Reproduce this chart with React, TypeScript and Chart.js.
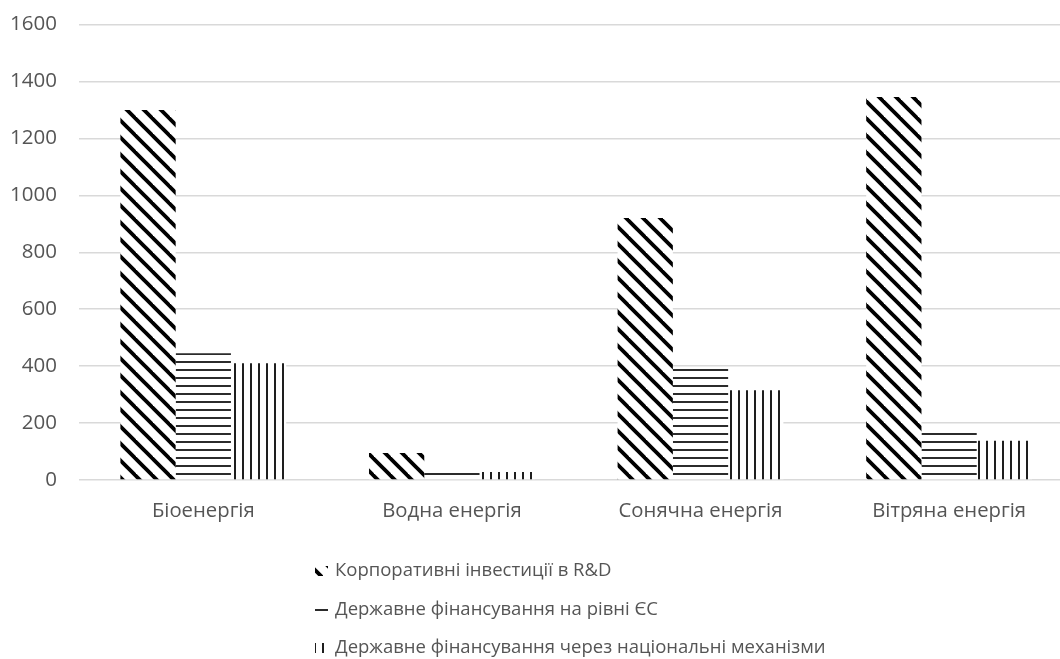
import React, { useEffect, useRef } from "react";
import { Chart, registerables } from "chart.js";

Chart.register(...registerables);

// Categories (x axis)
const categories = ["Біоенергія", "Водна енергія", "Сонячна енергія", "Вітряна енергія"];

// Series names
const seriesNames = [
  "Корпоративні інвестиції в R&D",
  "Державне фінансування на рівні ЄС",
  "Державне фінансування через національні механізми",
];

// Series values
const corporateRnD = [1300, 95, 920, 1345];
const euFunding = [445, 32, 397, 167];
const nationalFunding = [410, 28, 315, 138];

// Value axis
const yMax = 1600;
const yStep = 200;

const FONT = "'Open Sans', 'Noto Sans', sans-serif";
const TEXT_COLOR = "#555555";
const GRID_COLOR = "#d9d9d9";

function makeTile(size: number, draw: (c: CanvasRenderingContext2D) => void): CanvasPattern {
  const tile = document.createElement("canvas");
  tile.width = size;
  tile.height = size;
  const c = tile.getContext("2d")!;
  c.fillStyle = "#ffffff";
  c.fillRect(0, 0, size, size);
  draw(c);
  const ctx = document.createElement("canvas").getContext("2d")!;
  return ctx.createPattern(tile, "repeat")!;
}

// Wide downward diagonal stripes
function diagonalPattern(): CanvasPattern {
  const p = 17;
  return makeTile(p, (c) => {
    c.strokeStyle = "#000000";
    c.lineWidth = 3.8;
    for (let k = -1; k <= 1; k++) {
      c.beginPath();
      c.moveTo(-2, k * p - 2);
      c.lineTo(p + 2, k * p + p + 2);
      c.stroke();
    }
  });
}

// Narrow horizontal lines
function horizontalPattern(): CanvasPattern {
  const p = 8;
  return makeTile(p, (c) => {
    c.fillStyle = "#2b2b2b";
    c.fillRect(0, 1, p, 2);
  });
}

// Narrow vertical lines
function verticalPattern(): CanvasPattern {
  const p = 8;
  return makeTile(p, (c) => {
    c.fillStyle = "#1e1e1e";
    c.fillRect(2, 0, 2, p);
  });
}

// Vertical list legend under the x axis
const listLegend = {
  id: "listLegend",
  afterDraw(chart: Chart) {
    const ctx = chart.ctx;
    const left = 315;
    const top = 571;
    const gap = 38.5;
    ctx.save();
    ctx.font = `18.5px ${FONT}`;
    ctx.textBaseline = "middle";
    ctx.textAlign = "left";
    chart.data.datasets.forEach((ds: any, i: number) => {
      const y = top + i * gap;
      ctx.fillStyle = ds.backgroundColor;
      ctx.fillRect(left, y - 5, 13, 10);
      ctx.fillStyle = TEXT_COLOR;
      ctx.fillText(ds.label, left + 20, y);
    });
    ctx.restore();
  },
};

export default function App() {
  const ref = useRef<HTMLCanvasElement | null>(null);

  useEffect(() => {
    if (!ref.current) return;
    const chart = new Chart(ref.current, {
      type: "bar",
      data: {
        labels: categories,
        datasets: [
          { label: seriesNames[0], data: corporateRnD, backgroundColor: diagonalPattern() as any },
          { label: seriesNames[1], data: euFunding, backgroundColor: horizontalPattern() as any },
          { label: seriesNames[2], data: nationalFunding, backgroundColor: verticalPattern() as any },
        ],
      },
      options: {
        responsive: false,
        animation: false,
        events: [],
        layout: { padding: { left: 0, right: 16.6, top: 24.5, bottom: 0 } },
        datasets: {
          bar: { categoryPercentage: 0.667, barPercentage: 1, borderWidth: 0 },
        },
        plugins: {
          legend: { display: false },
          tooltip: { enabled: false },
        },
        scales: {
          x: {
            grid: { display: false, drawTicks: false },
            border: { display: false },
            ticks: {
              color: TEXT_COLOR,
              font: { family: FONT, size: 20.3 },
              padding: 19,
              maxRotation: 0,
            },
            afterFit: (s: any) => {
              s.height = 179;
              s.paddingLeft = 0;
              s.paddingRight = 0;
            },
          },
          y: {
            min: 0,
            max: yMax,
            grid: { color: GRID_COLOR, lineWidth: 1.5, drawTicks: false },
            border: { display: false },
            ticks: {
              stepSize: yStep,
              color: TEXT_COLOR,
              font: { family: FONT, size: 20.5 },
              padding: 22,
              callback: (v: any) => String(v),
            },
            afterFit: (s: any) => {
              s.width = 79;
              s.paddingTop = 0;
              s.paddingBottom = 0;
            },
          },
        },
      },
      plugins: [listLegend],
    });
    return () => chart.destroy();
  }, []);

  return (
    <div
      style={{
        position: "fixed",
        left: 0,
        top: 0,
        width: 1060,
        height: 659,
        overflow: "hidden",
        background: "#ffffff",
      }}
    >
      <canvas ref={ref} width={1090} height={659} style={{ display: "block" }} />
    </div>
  );
}
